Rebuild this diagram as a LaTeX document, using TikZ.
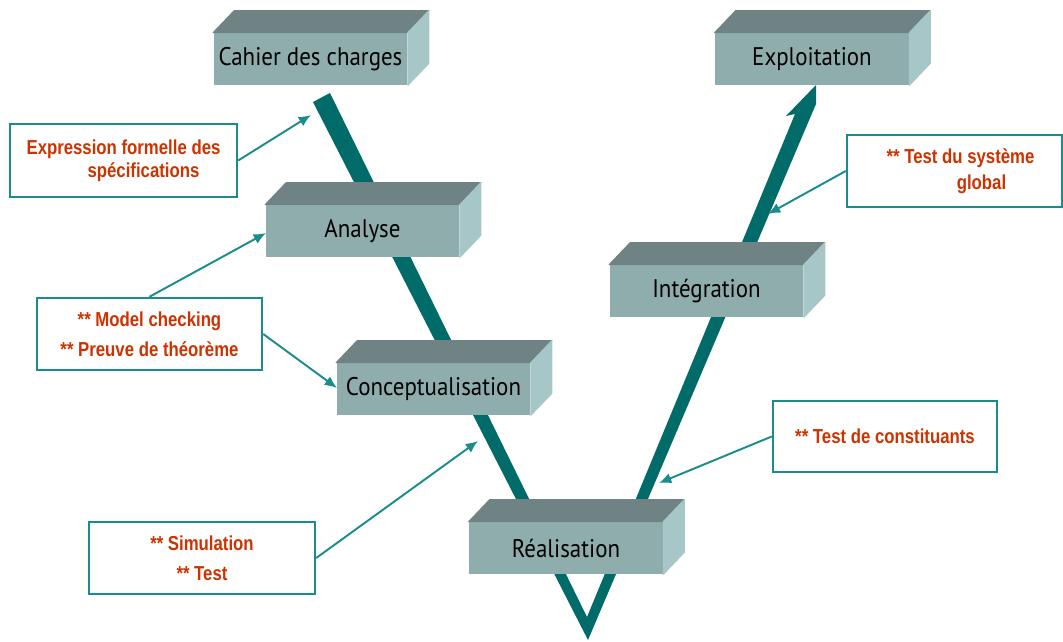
\documentclass[tikz,border=0pt]{standalone}
\usepackage{fontspec}
\newfontfamily\phasefont[FakeStretch=0.9]{PT Sans}
\newfontfamily\notefont[FakeStretch=0.83]{Liberation Sans}
\usetikzlibrary{arrows.meta}

\definecolor{vteal}{RGB}{0,107,104}
\definecolor{linkteal}{RGB}{26,140,140}
\definecolor{frontgray}{RGB}{143,173,173}
\definecolor{topgray}{RGB}{111,131,132}
\definecolor{sidegray}{RGB}{167,198,200}
\definecolor{notered}{RGB}{204,51,0}

\tikzset{
  phase/.style={rectangle, fill=frontgray, inner sep=0pt,
    minimum width=3.88cm, minimum height=1.04cm,
    font=\phasefont\fontsize{14.5}{17}\selectfont},
  note/.style={rectangle, draw=linkteal, line width=1.4pt, fill=white,
    inner sep=0pt, align=center, text=notered,
    font=\notefont\bfseries\fontsize{11.5}{13}\selectfont},
  link/.style={draw=linkteal, line width=1.1pt, -{Latex[length=7pt,width=6pt]}}
}

\begin{document}
\begin{tikzpicture}[x=0.02cm, y=-0.02cm]
\useasboundingbox (0,0) rectangle (1063,642);

% the V
\fill[vteal] (313,102) -- (330,93) -- (587,617) -- (795,114) -- (786,116)
  -- (816,85) -- (816,104) -- (588,640) -- cycle;

% phases
\node[phase] (cahier) at (310.5,59) {Cahier des charges};
\node[phase] (exploit) at (812,59) {Exploitation};
\node[phase] (analyse) at (362.5,231) {Analyse};
\node[phase] (concept) at (433.5,389) {Conceptualisation};
\node[phase] (integ) at (706.5,291) {Intégration};
\node[phase] (realis) at (566,548) {Réalisation};

\foreach \n in {cahier,exploit,analyse,concept,integ,realis}{
  \filldraw[topgray, line width=0.6pt, line join=round] (\n.north west) -- ++(21,-22)
    -- ([shift={(21,-22)}]\n.north east) -- (\n.north east) -- cycle;
  \filldraw[sidegray, line width=0.6pt, line join=round] (\n.north east) -- ++(21,-22)
    -- ([shift={(21,-22)}]\n.south east) -- (\n.south east) -- cycle;
}

% notes
\node[note, minimum width=4.54cm, minimum height=1.46cm] (spec) at (123.5,160.5)
  {Expression formelle des\\\hspace*{0.8cm}spécifications};
\node[note, minimum width=4.5cm, minimum height=1.44cm] (proof) at (149.5,334)
  {** Model checking\\[4pt]** Preuve de théorème};
\node[note, minimum width=4.52cm, minimum height=1.44cm] (simu) at (202,558)
  {** Simulation\\[4pt]** Test};
\node[note, minimum width=4.3cm, minimum height=1.44cm] (global) at (954.5,171)
  {\hspace*{0.24cm}** Test du système\\[1.5pt]\hspace*{1.08cm}global};
\node[note, minimum width=4.48cm, minimum height=1.42cm] (constit) at (885,436.5)
  {** Test de constituants};

\coordinate (spectip) at (311,115);
\coordinate (checktip) at (266,233);
\coordinate (prooftip) at (337,388);
\coordinate (simutip) at (478,441);
\coordinate (globaltip) at (768,214);
\coordinate (constittip) at (659,483);

\draw[link] (spec.east) -- (spectip);
\draw[link] (proof.north) -- (checktip);
\draw[link] (proof.east) -- (prooftip);
\draw[link] (simu.east) -- (simutip);
\draw[link] (global.west) -- (globaltip);
\draw[link] (constit.west) -- (constittip);
\end{tikzpicture}
\end{document}
